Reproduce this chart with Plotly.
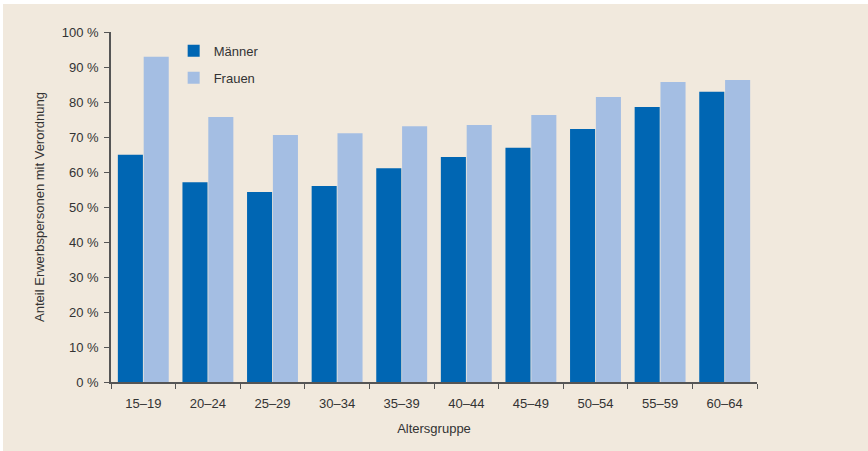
import plotly.graph_objects as go

gruppen = ["15–19", "20–24", "25–29", "30–34", "35–39",
           "40–44", "45–49", "50–54", "55–59", "60–64"]
maenner = [64.9, 57.1, 54.3, 56.0, 61.1, 64.3, 66.9, 72.3, 78.6, 82.9]
frauen = [92.9, 75.7, 70.6, 71.1, 73.1, 73.4, 76.3, 81.4, 85.7, 86.3]

BG = "#F1E9DD"
AXIS = "#555555"

fig = go.Figure()
fig.add_trace(go.Bar(x=gruppen, y=maenner, name="Männer", legendgroup="m",
                     marker=dict(color="#0066B3", line=dict(width=0))))
fig.add_trace(go.Bar(x=gruppen, y=frauen, name="Frauen", legendgroup="f",
                     marker=dict(color="#A4BEE3", line=dict(width=0))))

# beige panel, thin white strip at top and left
fig.add_shape(type="rect", xref="paper", yref="paper", layer="below",
              x0=(3 - 111) / 646, x1=(870 - 111) / 646,
              y0=(382 - 455) / 350, y1=(382 - 4) / 350,
              fillcolor=BG, line=dict(width=0))

fig.update_layout(
    width=868, height=451,
    paper_bgcolor="white", plot_bgcolor="rgba(0,0,0,0)",
    margin=dict(l=111, r=111, t=32, b=69),
    font=dict(family="Liberation Sans, Arial, sans-serif", size=13, color="#333333"),
    barmode="group", bargap=0.2, bargroupgap=0.03,
    legend=dict(x=0.097, y=0.989, xanchor="left", yanchor="top",
                bgcolor="rgba(0,0,0,0)", traceorder="grouped", tracegroupgap=7,
                font=dict(size=13, color="#333333")),
    xaxis=dict(showline=True, linecolor=AXIS, linewidth=1.5,
               ticks="outside", tickson="boundaries", ticklen=5, tickcolor=AXIS,
               ticklabelstandoff=9, tickfont=dict(size=13),
               title=dict(text="Altersgruppe", standoff=14, font=dict(size=13))),
    yaxis=dict(range=[0, 100], dtick=10, ticksuffix=" %", showgrid=False,
               zeroline=False, showline=True, linecolor=AXIS, linewidth=1.5,
               ticks="outside", ticklen=5, tickcolor=AXIS, ticklabelstandoff=3,
               tickfont=dict(size=13),
               title=dict(text="Anteil Erwerbspersonen mit Verordnung", standoff=14,
                          font=dict(size=13))),
)

fig.write_html("out.html", config={"displayModeBar": False},
               post_script="document.body.style.margin='0';")
